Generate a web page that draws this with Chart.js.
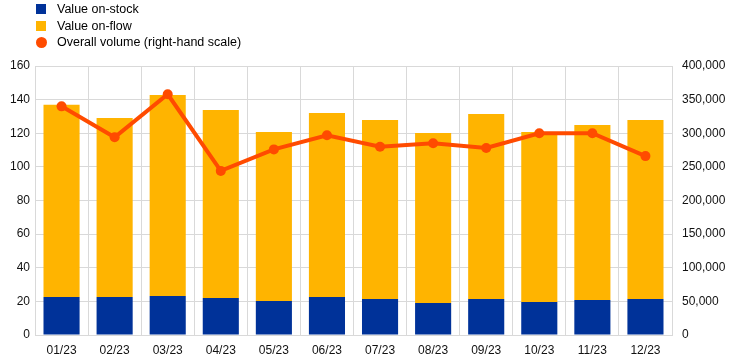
<!DOCTYPE html>
<html>
<head>
<meta charset="utf-8">
<script src="https://cdn.jsdelivr.net/npm/chart.js@4"></script>
<style>
  body { margin: 0; background: #fff; }
  #wrap { position: relative; width: 745px; height: 362px; }
  #legend { position: absolute; left: 36px; top: 1px; font: 12.5px "Liberation Sans", Arial, sans-serif; color: #000; }
  .item { height: 16.5px; display: flex; align-items: center; }
  .sw { width: 10px; height: 10px; margin-right: 11px; }
  .dot { border-radius: 50%; width: 11px; height: 11px; margin-right: 10px; }
</style>
</head>
<body>
<div id="wrap">
  <canvas id="chart" width="745" height="362"></canvas>
  <div id="legend"></div>
</div>
<script>
const months = ['01/23', '02/23', '03/23', '04/23', '05/23', '06/23', '07/23', '08/23', '09/23', '10/23', '11/23', '12/23'];
const onStock = [22.6, 22.6, 23.2, 22.0, 20.2, 22.6, 21.4, 19.0, 21.4, 19.6, 20.8, 21.4];
const onFlow = [114.4, 106.4, 119.6, 111.8, 100.6, 109.4, 106.5, 101.2, 110.1, 101.2, 104.1, 106.5];
const volume = [340000, 294000, 358000, 244000, 276000, 297000, 280000, 285000, 278000, 300000, 300000, 266000];

const blue = '#003299';
const yellow = '#FFB400';
const orange = '#FF4B00';
const gridColor = '#d9d9d9';
const font = { family: '"Liberation Sans", Arial, sans-serif', size: 12 };

const datasets = [
    { type: 'bar', label: 'Value on-stock', data: onStock, backgroundColor: blue, yAxisID: 'y', order: 2 },
    { type: 'bar', label: 'Value on-flow', data: onFlow, backgroundColor: yellow, yAxisID: 'y', order: 2 },
    { type: 'line', label: 'Overall volume (right-hand scale)', data: volume, borderColor: orange, backgroundColor: orange,
      borderWidth: 4, pointRadius: 5, pointHoverRadius: 5, pointBackgroundColor: orange, pointBorderWidth: 0,
      yAxisID: 'y2', order: 0, tension: 0 }
];

new Chart(document.querySelector('#chart').getContext('2d'), {
    data: { labels: months, datasets: datasets },
    options: {
        responsive: false,
        animation: false,
        layout: { padding: { top: 66, left: 0, right: 0, bottom: 0 } },
        datasets: { bar: { barPercentage: 0.68, categoryPercentage: 1 } },
        plugins: { legend: { display: false }, tooltip: { enabled: false } },
        scales: {
            x: {
                stacked: true,
                grid: { color: gridColor, drawTicks: false, offset: true },
                border: { color: gridColor },
                ticks: { color: '#111', font: font, padding: 8, maxRotation: 0 },
                afterFit: s => { s.height = 27; }
            },
            y: {
                stacked: true,
                position: 'left',
                min: 0, max: 160,
                grid: { color: gridColor, drawTicks: false },
                border: { color: gridColor },
                ticks: { stepSize: 20, color: '#111', font: font, padding: 5 },
                afterFit: s => { s.width = 35; }
            },
            y2: {
                position: 'right',
                min: 0, max: 400000,
                grid: { display: false, drawTicks: false },
                border: { display: false },
                ticks: { stepSize: 50000, color: '#111', font: font, padding: 10,
                    callback: v => v.toLocaleString('en-US') },
                afterFit: s => { s.width = 73; }
            }
        }
    }
});

// legend
const legend = document.querySelector('#legend');
datasets.forEach(ds => {
    const row = document.createElement('div');
    row.className = 'item';
    const mark = document.createElement('span');
    mark.className = ds.type === 'line' ? 'dot' : 'sw';
    mark.style.background = ds.backgroundColor;
    row.appendChild(mark);
    row.appendChild(document.createTextNode(ds.label));
    legend.appendChild(row);
});
</script>
</body>
</html>
